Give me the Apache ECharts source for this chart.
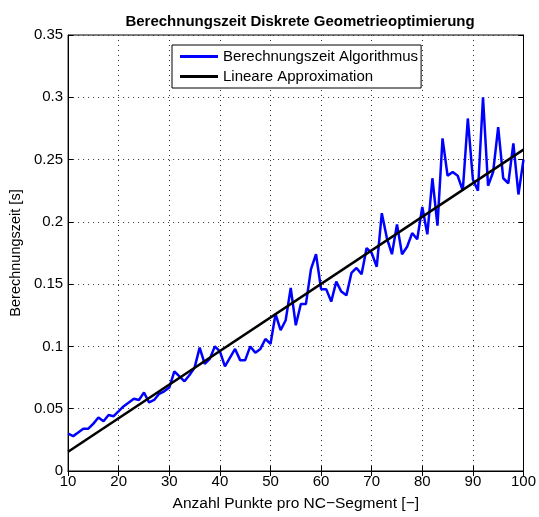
<!DOCTYPE html>
<html>
<head>
<meta charset="utf-8">
<script src="https://cdn.jsdelivr.net/npm/echarts@6/dist/echarts.min.js"></script>
<style>
  html, body { margin: 0; padding: 0; background: #fff; }
  #chart { width: 539px; height: 517px; }
</style>
</head>
<body>
<div id="chart"></div>
<script>
// Number of points per NC segment
const punkte = [];
for (let n = 10; n <= 100; n++) punkte.push(n);

// Measured computation time [s]
const zeitAlgorithmus = [
  0.030, 0.028, 0.031, 0.034, 0.034, 0.038, 0.043, 0.040, 0.045, 0.044,
  0.048, 0.052, 0.055, 0.058, 0.057, 0.063, 0.055, 0.057, 0.062, 0.064,
  0.067, 0.080, 0.076, 0.072, 0.077, 0.083, 0.099, 0.086, 0.090, 0.100,
  0.096, 0.084, 0.091, 0.098, 0.089, 0.089, 0.100, 0.095, 0.098, 0.106,
  0.102, 0.126, 0.113, 0.121, 0.147, 0.117, 0.134, 0.134, 0.162, 0.174,
  0.146, 0.146, 0.136, 0.152, 0.144, 0.141, 0.159, 0.163, 0.158, 0.179,
  0.175, 0.164, 0.207, 0.187, 0.174, 0.198, 0.174, 0.180, 0.191, 0.186,
  0.212, 0.190, 0.235, 0.197, 0.267, 0.237, 0.240, 0.237, 0.225, 0.283,
  0.234, 0.225, 0.300, 0.229, 0.240, 0.276, 0.235, 0.231, 0.263, 0.222,
  0.250
];

// Linear approximation endpoints
const approxX = [10, 100];
const approxY = [0.0155, 0.258];

const xTicks = [10, 20, 30, 40, 50, 60, 70, 80, 90, 100];
const yTicks = [0, 0.05, 0.1, 0.15, 0.2, 0.25, 0.3, 0.35];

const font = 'Liberation Sans, Arial, Helvetica, sans-serif';

const chart = echarts.init(document.getElementById('chart'), null, { renderer: 'canvas' });

const gridLine = { show: true, lineStyle: { color: '#333', type: [1, 4], width: 1 } };
const boxTick = { show: true, inside: true, length: 5, lineStyle: { color: '#000' } };

chart.setOption({
  animation: false,
  backgroundColor: '#fff',
  title: {
    text: 'Berechnungszeit Diskrete Geometrieoptimierung',
    left: 295, top: 9, textAlign: 'center',
    textStyle: { fontFamily: font, fontSize: 15, fontWeight: 'bold', color: '#000' }
  },
  legend: {
    orient: 'vertical',
    left: 172, top: 45,
    padding: [4, 3, 4, 8],
    itemGap: 5,
    itemWidth: 38, itemHeight: 3,
    icon: 'rect',
    backgroundColor: '#fff',
    borderColor: '#000', borderWidth: 1, borderRadius: 0,
    textStyle: { fontFamily: font, fontSize: 15, color: '#000' },
    data: ['Berechnungszeit Algorithmus', 'Lineare Approximation']
  },
  grid: {
    left: 63, right: 12, top: 35, bottom: 40,
    show: true, borderColor: '#000', borderWidth: 1, backgroundColor: 'transparent'
  },
  xAxis: [{
    type: 'value', min: xTicks[0], max: xTicks[xTicks.length - 1], interval: 10,
    name: 'Anzahl Punkte pro NC\u2212Segment [\u2212]',
    nameLocation: 'middle', nameGap: 25,
    nameTextStyle: { fontFamily: font, fontSize: 15.5, color: '#000' },
    axisLine: { show: true, lineStyle: { color: '#000', width: 1 } },
    axisTick: boxTick,
    axisLabel: { fontFamily: font, fontSize: 15, color: '#000', margin: 3 },
    splitLine: gridLine
  }, {
    type: 'value', position: 'top', min: 10, max: 100, interval: 10,
    axisLine: { show: true, lineStyle: { color: '#000', width: 1 } },
    axisTick: boxTick,
    axisLabel: { show: false }, splitLine: { show: false }
  }],
  yAxis: [{
    type: 'value', min: yTicks[0], max: yTicks[yTicks.length - 1], interval: 0.05,
    name: 'Berechnungszeit [s]',
    nameLocation: 'middle', nameGap: 38,
    nameTextStyle: { fontFamily: font, fontSize: 14.5, color: '#000' },
    axisLine: { show: true, lineStyle: { color: '#000', width: 1 } },
    axisTick: boxTick,
    axisLabel: { fontFamily: font, fontSize: 15, color: '#000', margin: 5 },
    splitLine: gridLine
  }, {
    type: 'value', position: 'right', min: 0, max: 0.35, interval: 0.05,
    axisLine: { show: true, lineStyle: { color: '#000', width: 1 } },
    axisTick: boxTick,
    axisLabel: { show: false }, splitLine: { show: false }
  }],
  series: [{
    name: 'Berechnungszeit Algorithmus',
    type: 'line',
    symbol: 'none',
    color: '#0000ff',
    lineStyle: { color: '#0000ff', width: 2.5 },
    data: punkte.map((p, i) => [p, zeitAlgorithmus[i]]),
    z: 3
  }, {
    name: 'Lineare Approximation',
    type: 'line',
    symbol: 'none',
    color: '#000',
    lineStyle: { color: '#000', width: 2.5 },
    data: approxX.map((p, i) => [p, approxY[i]]),
    z: 4
  }]
});
</script>
</body>
</html>
